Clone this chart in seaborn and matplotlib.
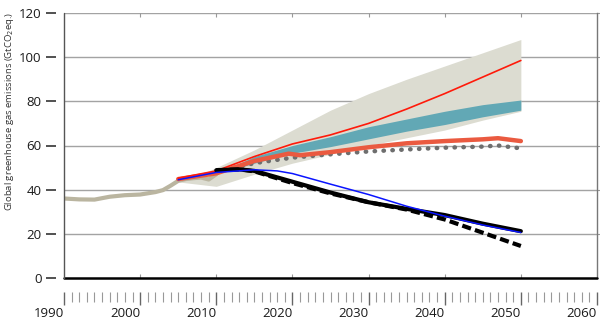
import matplotlib
matplotlib.use("Agg")
import matplotlib.pyplot as plt
import seaborn as sns
import numpy as np

sns.set_theme(style="white")
plt.rcParams['font.family'] = ['Open Sans', 'DejaVu Sans']

# ---- data ----
hist_years = [1990, 1992, 1994, 1996, 1998, 2000, 2002, 2003, 2004, 2005, 2006, 2007, 2008, 2009, 2010]
hist_vals  = [36.0, 35.6, 35.5, 36.8, 37.5, 37.8, 38.9, 39.8, 41.8, 44.0, 44.8, 45.2, 45.5, 44.6, 47.0]

band_years = [2005, 2008, 2010, 2015, 2020, 2025, 2030, 2035, 2040, 2045, 2050]
band_low   = [43.5, 42.3, 41.5, 47.0, 52.0, 56.0, 60.0, 63.5, 67.0, 71.5, 75.5]
band_high  = [44.5, 47.0, 50.0, 58.0, 67.0, 76.0, 83.5, 90.0, 96.0, 102.0, 108.0]

teal_years = [2010.5, 2015, 2020, 2025, 2030, 2035, 2040, 2045, 2050]
teal_low   = [47.5, 52.0, 56.5, 59.5, 63.0, 66.5, 69.5, 73.0, 76.0]
teal_high  = [48.0, 55.0, 60.0, 64.0, 68.5, 72.0, 75.5, 78.5, 80.6]

red_years = [2005, 2010, 2015, 2020, 2025, 2030, 2035, 2040, 2045, 2050]
red_vals  = [45.2, 48.5, 55.0, 60.7, 64.8, 70.0, 76.5, 83.5, 91.0, 98.5]

orange_years = [2005, 2010, 2015, 2019.5, 2021, 2025, 2030, 2035, 2040, 2045, 2047, 2050]
orange_vals  = [44.8, 47.4, 53.0, 56.3, 55.6, 57.0, 59.2, 61.0, 62.0, 62.8, 63.3, 62.0]

dot_years = [2010, 2015, 2020, 2025, 2030, 2035, 2040, 2045, 2047, 2050]
dot_vals  = [48.0, 52.0, 54.5, 56.0, 57.3, 58.2, 59.0, 59.5, 60.0, 58.7]

blue_years = [2005, 2010, 2015, 2018, 2020, 2025, 2030, 2035, 2040, 2045, 2050]
blue_vals  = [44.5, 47.8, 49.0, 48.5, 47.3, 42.5, 37.8, 32.5, 28.0, 24.0, 20.6]

black_years = [2010, 2013, 2015, 2020, 2025, 2030, 2035, 2040, 2045, 2050]
black_vals  = [48.8, 49.2, 48.5, 43.6, 38.7, 34.3, 31.3, 28.5, 24.6, 21.2]

dash_years = [2010, 2013, 2015, 2020, 2025, 2030, 2035, 2040, 2045, 2050]
dash_vals  = [48.8, 49.2, 48.3, 43.0, 38.3, 34.3, 31.0, 26.5, 20.5, 14.5]

x_ticks = list(range(1990, 2061, 10))
y_ticks = list(range(0, 121, 20))
ylabel = "Global greenhouse gas emissions (GtCO$_2$eq.)"

# ---- figure ----
fig = plt.figure(figsize=(6.0, 3.21), dpi=100)
ax = fig.add_axes([64/600, 1-278/321, (597-64)/600, (278-13)/321])
ax.set_xlim(1990, 2060)
ax.set_ylim(0, 120)

# grid lines
for yv in y_ticks[1:]:
    ax.axhline(yv, color='#a3a3a3', lw=1.0, zorder=0)

ax.fill_between(band_years, band_low, band_high, color='#dcdcd1', lw=0, zorder=1)
ax.fill_between(teal_years, teal_low, teal_high, color='#62a8b5', lw=0, zorder=2)

sns.lineplot(x=hist_years, y=hist_vals, ax=ax, color='#bab5a0', lw=3, zorder=3,
             solid_capstyle='round')
sns.lineplot(x=dot_years, y=dot_vals, ax=ax, color='#6e6e6e', lw=3.2, zorder=4,
             linestyle=(0, (0.1, 1.9)), dash_capstyle='round')
sns.lineplot(x=orange_years, y=orange_vals, ax=ax, color='#ea5a40', lw=3.2, zorder=5)
sns.lineplot(x=red_years, y=red_vals, ax=ax, color='#ff1a0a', lw=1.2, zorder=6)
sns.lineplot(x=black_years, y=black_vals, ax=ax, color='black', lw=3.0, zorder=7)
sns.lineplot(x=dash_years, y=dash_vals, ax=ax, color='black', lw=3.0, zorder=8,
             linestyle=(0, (2.2, 1.0)))
sns.lineplot(x=blue_years, y=blue_vals, ax=ax, color='#0a14ff', lw=1.1, zorder=9)

# frame
ax.axhline(0, color='black', lw=1.8, zorder=10, clip_on=False)
ax.axvline(1990, color='#555555', lw=1.0, zorder=10, clip_on=False)
for s in ['top', 'bottom', 'left']:
    ax.spines[s].set_visible(False)
ax.spines['right'].set_color('#777777')
ax.spines['right'].set_linewidth(1.0)
ax.spines['bottom'].set_position(('outward', 10))
ax.spines['left'].set_position(('outward', 6))

ax.set_xticks(x_ticks)
ax.set_xticklabels([str(t) for t in x_ticks])
for lab in ax.get_xticklabels():
    lab.set_ha('right')
ax.set_xticks(list(range(1990, 2061)), minor=True)
ax.tick_params(axis='x', which='major', direction='out', length=9.5, width=1.0,
               color='#666666', pad=1.5, labelsize=9.5, labelcolor='#1a1a1a', bottom=True)
ax.tick_params(axis='x', which='minor', direction='out', length=7, width=0.8,
               color='#999999', bottom=True)
ax.set_yticks(y_ticks)
ax.set_yticklabels([str(t) for t in y_ticks])
ax.tick_params(axis='y', which='major', direction='out', length=7.2, width=1.2,
               color='#333333', pad=3, labelsize=9.5, labelcolor='#1a1a1a', left=True)
ax.set_xlabel('')
ax.set_ylabel('')
ax.grid(False)

# inner decade ticks on bottom and top edges
for loc in [0, 'top']:
    sec = ax.secondary_xaxis(loc)
    sec.set_xticks(x_ticks[1:-1])
    sec.tick_params(direction='in', length=3, width=0.8, color='#999999',
                    labelbottom=False, labeltop=False)
    for s in sec.spines.values():
        s.set_visible(False)

secr = ax.secondary_yaxis('right')
secr.set_yticks(y_ticks[1:])
secr.tick_params(direction='out', length=2, width=0.8, color='#999999', labelright=False)
for s in secr.spines.values():
    s.set_visible(False)

fig.text(10/600, 1-12/321, ylabel, rotation=90, ha='center', va='top',
         fontsize=6.8, color='#333333')

fig.savefig('out.png', dpi=100)
